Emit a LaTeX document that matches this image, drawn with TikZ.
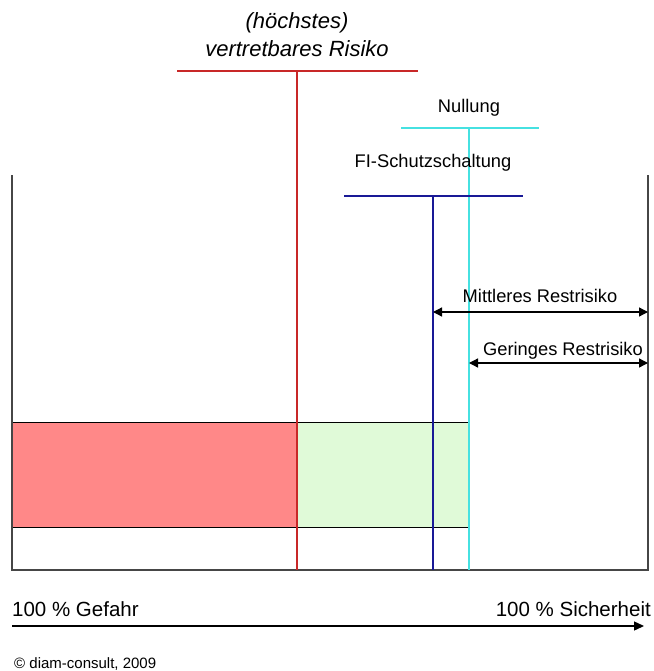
\documentclass[tikz,border=0pt]{standalone}
\usepackage{fontspec}
\setmainfont{Liberation Sans}
\usetikzlibrary{arrows.meta}
\definecolor{rline}{RGB}{200,40,40}
\definecolor{rfill}{RGB}{255,136,136}
\definecolor{gfill}{RGB}{224,250,216}
\definecolor{cline}{RGB}{70,225,225}
\definecolor{bline}{RGB}{25,25,150}
\definecolor{frame}{RGB}{70,70,70}
\begin{document}
\begin{tikzpicture}[x=1pt,y=-1pt,
  lbl/.style={inner sep=0pt,font=\fontsize{18.3}{22}\selectfont},
  redl/.style={rline,line width=2.2pt},
  cyl/.style={cline,line width=2.2pt},
  bll/.style={bline,line width=2.2pt},
  dim/.style={black,line width=1.3pt,{Triangle[length=9pt,width=9pt]}-{Triangle[length=9pt,width=9pt]}}]
\useasboundingbox (0,0) rectangle (653,671);
% boxes
\draw[black,line width=1pt,fill=rfill] (12,422) rectangle (297,527);
\draw[black,line width=1pt,fill=gfill] (297,422) rectangle (468,527);
% frame
\coordinate (ftl) at (12,175);
\coordinate (fbl) at (12,570);
\coordinate (fbr) at (648,570);
\coordinate (ftr) at (648,175);
\draw[frame,line width=1.3pt] (ftl) -- (fbl) -- (fbr) -- (ftr);
% red
\coordinate (rl) at (177,71); \coordinate (rr) at (418,71);
\coordinate (rt) at (297,71); \coordinate (rb) at (297,570);
\draw[redl] (rl) -- (rr);
\draw[redl] (rt) -- (rb);
\node[lbl,font=\fontsize{22}{28}\selectfont\itshape,align=center] (rtext) at (297,35) {(höchstes)\\vertretbares Risiko};
% cyan
\coordinate (cl) at (401,128); \coordinate (cr) at (539,128);
\coordinate (ct) at (469,128); \coordinate (cb) at (469,570);
\draw[cyl] (cl) -- (cr);
\draw[cyl] (ct) -- (cb);
\node[lbl] (ctext) at (469,108) {Nullung};
% blue
\coordinate (bl) at (344,196); \coordinate (br) at (523,196);
\coordinate (bt) at (433,196); \coordinate (bb) at (433,570);
\draw[bll] (bl) -- (br);
\draw[bll] (bt) -- (bb);
\node[lbl] (btext) at (433,163) {FI-Schutzschaltung};
% dimension arrows
\coordinate (m1) at (433,312); \coordinate (m2) at (648,312);
\draw[dim] (m1) -- (m2);
\node[lbl] (mtext) at (540,296) {Mittleres Restrisiko};
\coordinate (g1) at (469,363); \coordinate (g2) at (648,363);
\draw[dim] (g1) -- (g2);
\node[lbl] (gtext) at (563,351) {Geringes Restrisiko};
% bottom axis
\coordinate (a1) at (12,626); \coordinate (a2) at (644,626);
\draw[black,line width=1.3pt,-{Triangle[length=10pt,width=9pt]}] (a1) -- (a2);
\node[lbl,anchor=west,font=\fontsize{20.5}{24}\selectfont] (lt) at (12,609) {100 \% Gefahr};
\node[lbl,anchor=east,font=\fontsize{20.5}{24}\selectfont] (rtxt) at (651,609) {100 \% Sicherheit};
\node[lbl,anchor=west,font=\fontsize{15}{18}\selectfont] (copy) at (14,664) {© diam-consult, 2009};
\end{tikzpicture}
\end{document}
